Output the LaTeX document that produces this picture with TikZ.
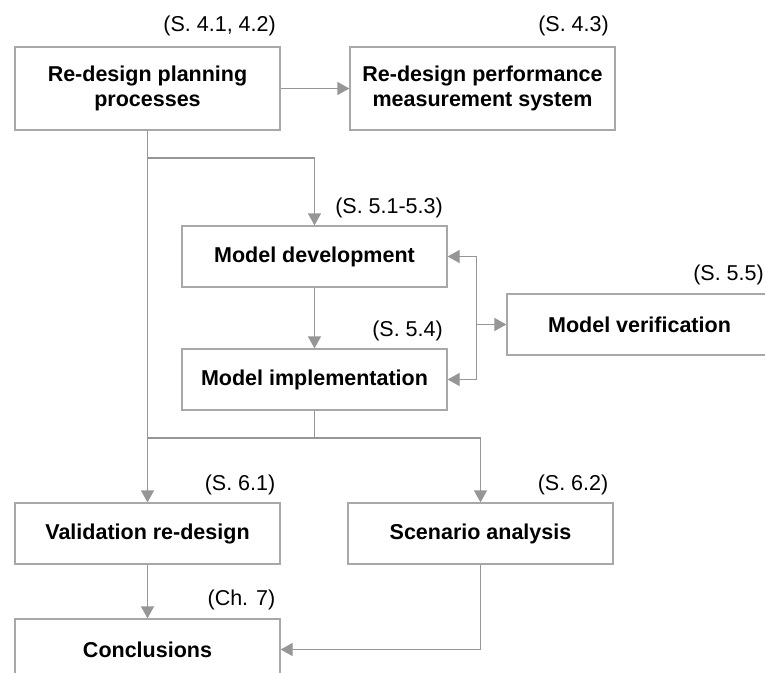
\documentclass[tikz,border=0pt]{standalone}
\usepackage{fontspec}
\setmainfont{Liberation Sans}
\usetikzlibrary{arrows.meta,calc}
\definecolor{linegray}{RGB}{150,150,150}
\definecolor{boxgray}{RGB}{168,168,168}
\tikzset{
  box/.style={draw=boxgray, line width=1.3pt, rectangle, minimum width=265pt,
    inner sep=0pt, align=center,
    font=\fontsize{21.5pt}{24.5pt}\selectfont\bfseries},
  tall/.style={minimum height=83pt},
  short/.style={minimum height=61pt},
  secref/.style={anchor=base east, inner sep=0pt, font=\fontsize{21.5pt}{24.5pt}\selectfont},
  conn/.style={draw=linegray, line width=1.3pt},
  arr/.style={conn, -{Triangle[length=12pt,width=13pt]}},
  darr/.style={conn, {Triangle[length=12pt,width=13pt]}-{Triangle[length=12pt,width=13pt]}}
}
\begin{document}
\begin{tikzpicture}[x=1pt,y=-1pt]
\clip (0,0) rectangle (765,672);
\fill[white] (0,0) rectangle (765,672);

% boxes
\node[box,tall]  (A)    at (147.5,88.5)  {Re-design planning\\processes};
\node[box,tall]  (B)    at (482.5,88.5)  {Re-design performance\\measurement system};
\node[box,short] (Dev)  at (314.5,256.5) {Model development};
\node[box,short] (Impl) at (314.5,379.5) {Model implementation};
\node[box,short] (Ver)  at (639.5,324.5) {Model verification};
\node[box,short] (Val)  at (147.5,533.5) {Validation re-design};
\node[box,short] (Scen) at (480.5,533.5) {Scenario analysis};
\node[box,short] (Conc) at (147.5,649.5) {Conclusions};

% section references
\node[secref] (lA)    at (276,31.5)  {(S. 4.1, 4.2)};
\node[secref] (lB)    at (609,31.5)  {(S. 4.3)};
\node[secref] (lDev)  at (443,213)   {(S. 5.1-5.3)};
\node[secref] (lImpl) at (443,336)   {(S. 5.4)};
\node[secref] (lVer)  at (764,280)   {(S. 5.5)};
\node[secref] (lVal)  at (275.5,490) {(S. 6.1)};
\node[secref] (lScen) at (608.5,490) {(S. 6.2)};
\node[secref] (lConc) at (275.5,605) {(Ch. 7)};

% junction coordinates
\coordinate (j1) at (147.5,158);
\coordinate (j2) at (314.5,438);
\coordinate (jv) at (476,324.5);

% connectors
\draw[arr] (A.east) -- (B.west);
\draw[arr] (A.south) -- (Val.north);
\draw[arr] (j1) -| (Dev.north);
\draw[arr] (Dev.south) -- (Impl.north);
\draw[darr] (Dev.east) -- ++(29,0) |- (Impl.east);
\draw[arr] (jv) -- (Ver.west);
\draw[arr] (Impl.south) -- (j2) -| (Scen.north);
\draw[conn] (j2) -- (A.south |- j2);
\draw[arr] (Val.south) -- (Conc.north);
\draw[arr] (Scen.south) |- (Conc.east);
\end{tikzpicture}
\end{document}
